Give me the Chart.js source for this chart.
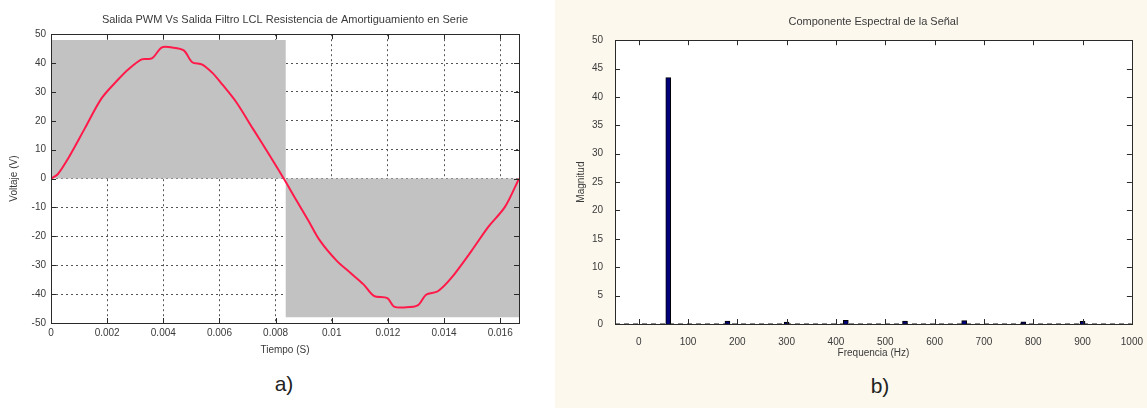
<!DOCTYPE html>
<html>
<head>
<meta charset="utf-8">
<script src="https://cdn.jsdelivr.net/npm/chart.js@4/dist/chart.umd.min.js"></script>
<style>
  body { margin: 0; width: 1147px; height: 408px; background: #fff; position: relative; overflow: hidden; font-family: "Liberation Sans", Arial, sans-serif; }
  #izq { position: absolute; left: 0; top: 0; width: 535px; height: 360px; }
  #derFondo { position: absolute; left: 555px; top: 0; width: 592px; height: 408px; background: #fcf8ee; }
  #der { position: absolute; left: 555px; top: 0; width: 592px; height: 363px; }
  .lbl { position: absolute; font-size: 21px; color: #222; transform: translate(-50%, -50%); }
</style>
</head>
<body>
<div id="derFondo"></div>
<div id="izq"><canvas id="graficoA"></canvas></div>
<div id="der"><canvas id="graficoB"></canvas></div>
<div class="lbl" style="left:284px; top:384px;">a)</div>
<div class="lbl" style="left:880px; top:386px;">b)</div>
<script>
  // a) salida del filtro (s, V)
  const tiempo = [0, 0.00024, 0.0006, 0.0012, 0.0018, 0.00239, 0.00275, 0.00323, 0.00359, 0.00395,
    0.00431, 0.00473, 0.00503, 0.00539, 0.00575, 0.00611, 0.00659, 0.00719, 0.00779, 0.00829,
    0.00874, 0.00916, 0.00958, 0.01018, 0.01066, 0.01114, 0.0115, 0.01198, 0.01222, 0.01258,
    0.01306, 0.01336, 0.01378, 0.01426, 0.01498, 0.01557, 0.01617, 0.01667];
  const voltaje = [0, 1.5, 6.8, 17.3, 27.8, 34.3, 37.8, 41.3, 41.6, 45.4,
    45.4, 44.4, 40.3, 39.5, 36.6, 32.5, 26.6, 17.3, 8, 0,
    -7.5, -14.4, -21.5, -28.5, -32.6, -36.7, -40.6, -41.4, -44.3, -44.6,
    -43.9, -40.2, -39, -34.4, -25, -16.8, -9.8, 0];
  // salida PWM (envolvente)
  const pwmTiempo = [0, 0.00836, 0.00836, 0.01667];
  const pwmVoltaje = [48, 48, -48, -48];
  const tiempoTicks = [0, 0.002, 0.004, 0.006, 0.008, 0.01, 0.012, 0.014, 0.016];
  const voltajeTicks = [-50, -40, -30, -20, -10, 0, 10, 20, 30, 40, 50];

  // b) espectro
  const frecuencias = [60, 180, 300, 420, 540, 660, 780, 900];
  const magnitudes = [43.4, 0.5, 0.35, 0.65, 0.5, 0.6, 0.4, 0.45];
  const frecuenciaTicks = [0, 100, 200, 300, 400, 500, 600, 700, 800, 900, 1000];

  const fuente = { family: '"Liberation Sans", Arial, sans-serif', size: 10 };
  const fuenteTitulo = { family: '"Liberation Sans", Arial, sans-serif', size: 11, weight: 'normal' };
  const gris = '#3a3a3a';

  const marcoMatlab = {
    id: 'marcoMatlab',
    beforeDraw(chart, args, opts) {
      if (!opts.fondo) return;
      const a = chart.chartArea;
      chart.ctx.save();
      chart.ctx.fillStyle = opts.fondo;
      chart.ctx.fillRect(a.left, a.top, a.right - a.left, a.bottom - a.top);
      chart.ctx.restore();
    },
    afterDraw(chart) {
      const { ctx, chartArea: a, scales: { x, y } } = chart;
      const len = 5;
      ctx.save();
      ctx.strokeStyle = '#2a2a2a';
      ctx.lineWidth = 1;
      ctx.beginPath();
      x.ticks.forEach(t => {
        const px = Math.round(x.getPixelForValue(t.value)) + 0.5;
        ctx.moveTo(px, a.bottom); ctx.lineTo(px, a.bottom - len);
        ctx.moveTo(px, a.top); ctx.lineTo(px, a.top + len);
      });
      y.ticks.forEach(t => {
        const py = Math.round(y.getPixelForValue(t.value)) + 0.5;
        ctx.moveTo(a.left, py); ctx.lineTo(a.left + len, py);
        ctx.moveTo(a.right, py); ctx.lineTo(a.right - len, py);
      });
      ctx.stroke();
      ctx.strokeRect(Math.round(a.left) + 0.5, Math.round(a.top) + 0.5,
        Math.round(a.right - a.left), Math.round(a.bottom - a.top));
      ctx.restore();
    }
  };

  new Chart(document.getElementById('graficoA'), {
    type: 'line',
    data: {
      datasets: [{
        data: tiempo.map((t, i) => ({ x: t, y: voltaje[i] })),
        borderColor: '#ff1a4a',
        borderWidth: 2,
        pointRadius: 0,
        tension: 0.3,
        fill: false
      }, {
        data: pwmTiempo.map((t, i) => ({ x: t, y: pwmVoltaje[i] })),
        borderWidth: 0,
        borderColor: 'rgba(0,0,0,0)',
        backgroundColor: '#c2c2c2',
        pointRadius: 0,
        fill: 'origin'
      }]
    },
    options: {
      responsive: true,
      maintainAspectRatio: false,
      animation: false,
      layout: { padding: { left: 4, right: 16, top: 0, bottom: 0 } },
      plugins: {
        legend: { display: false },
        tooltip: { enabled: false },
        title: {
          display: true,
          text: 'Salida PWM Vs Salida Filtro LCL Resistencia de Amortiguamiento en Serie',
          fullSize: false,
          color: gris,
          font: fuenteTitulo,
          padding: { top: 13, bottom: 8 }
        }
      },
      scales: {
        x: {
          type: 'linear',
          min: 0,
          max: 0.01667,
          afterBuildTicks: s => { s.ticks = tiempoTicks.map(v => ({ value: v })); },
          afterFit: s => { s.height = 37; },
          ticks: { callback: v => String(+v.toFixed(3)), padding: 4, maxRotation: 0, autoSkip: false, color: gris, font: fuente },
          grid: { color: '#555', drawTicks: false, borderDash: [2, 3] },
          border: { display: false, dash: [2, 3] },
          title: { display: true, text: 'Tiempo (S)', color: gris, font: fuente }
        },
        y: {
          min: -50,
          max: 50,
          afterBuildTicks: s => { s.ticks = voltajeTicks.map(v => ({ value: v })); },
          afterFit: s => { s.width = 47; },
          ticks: { padding: 5, color: gris, font: fuente },
          grid: { color: '#555', drawTicks: false, borderDash: [2, 3] },
          border: { display: false, dash: [2, 3] },
          title: { display: true, text: 'Voltaje (V)', color: gris, font: fuente }
        }
      }
    },
    plugins: [marcoMatlab]
  });

  new Chart(document.getElementById('graficoB'), {
    type: 'bar',
    data: {
      datasets: [{
        type: 'bar',
        data: frecuencias.map((f, i) => ({ x: f, y: magnitudes[i] })),
        backgroundColor: '#00007a',
        borderColor: '#000',
        borderWidth: 1,
        barThickness: 5,
        order: 2
      }, {
        type: 'line',
        data: [{ x: -48, y: 0 }, { x: 1000, y: 0 }],
        borderColor: '#111',
        borderWidth: 1,
        borderDash: [5, 4],
        pointRadius: 0,
        order: 1
      }]
    },
    options: {
      responsive: true,
      maintainAspectRatio: false,
      animation: false,
      layout: { padding: { left: 16, right: 12, top: 0, bottom: 0 } },
      plugins: {
        legend: { display: false },
        tooltip: { enabled: false },
        marcoMatlab: { fondo: '#ffffff' },
        title: {
          display: true,
          text: 'Componente Espectral de la Señal',
          fullSize: false,
          color: gris,
          font: fuenteTitulo,
          padding: { top: 15, bottom: 12 }
        }
      },
      scales: {
        x: {
          type: 'linear',
          min: -48,
          max: 1000,
          offset: false,
          afterBuildTicks: s => { s.ticks = frecuenciaTicks.map(v => ({ value: v })); },
          afterFit: s => { s.height = 39; },
          ticks: { callback: v => String(v), padding: 4, maxRotation: 0, autoSkip: false, color: gris, font: fuente },
          grid: { display: false, offset: false },
          border: { display: false },
          title: { display: true, text: 'Frequencia (Hz)', color: gris, font: fuente }
        },
        y: {
          min: 0,
          max: 50,
          ticks: { stepSize: 5, padding: 4, color: gris, font: fuente },
          afterFit: s => { s.width = 44; },
          grid: { display: false },
          border: { display: false },
          title: { display: true, text: 'Magnitud', color: gris, font: fuente }
        }
      }
    },
    plugins: [marcoMatlab]
  });
</script>
</body>
</html>
